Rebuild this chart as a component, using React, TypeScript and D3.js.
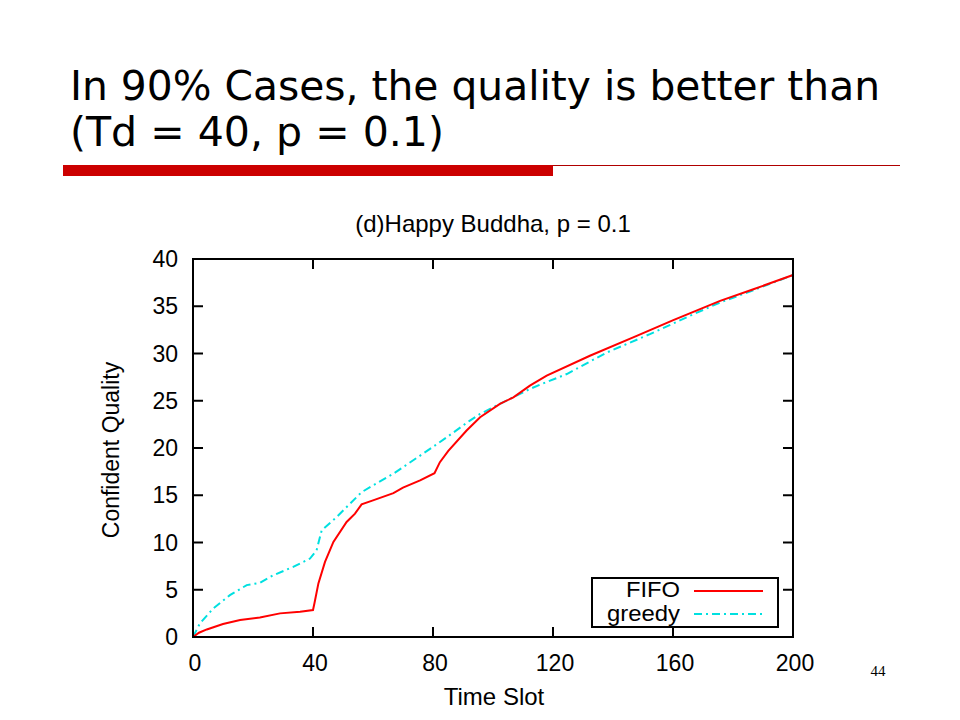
import { useEffect, useRef } from "react";
import * as d3 from "d3";

const W = 960;
const H = 720;

const xTicks = [0, 40, 80, 120, 160, 200];
const yTicks = [0, 5, 10, 15, 20, 25, 30, 35, 40];

// values
const fifoT = [0, 2, 4.6, 10, 15.7, 22.3, 29, 35.7, 40, 40.5, 41.8, 44, 46.8, 51.2, 54, 56.2, 60, 66.8, 70, 75.7, 80.5, 82.3, 85.1, 91.2, 95.7, 102.3, 106.8, 112.3, 117.9, 132.3, 147.9, 160.1, 175.7, 186.8, 200];
const fifoQ = [0, 0.45, 0.8, 1.37, 1.79, 2.07, 2.5, 2.67, 2.85, 3.6, 5.67, 7.95, 10.06, 12.17, 13.05, 14.04, 14.46, 15.23, 15.8, 16.57, 17.34, 18.5, 19.7, 21.85, 23.25, 24.67, 25.36, 26.6, 27.65, 29.76, 31.87, 33.53, 35.57, 36.8, 38.3];

const greedyT = [0, 2.3, 6.8, 12.3, 17.9, 22.3, 26.8, 33.4, 39, 41.2, 42.9, 47.9, 56.2, 66.8, 79, 84.6, 92.3, 95.7, 102.3, 112.3, 115.7, 124.6, 137.9, 152.3, 165.7, 175.7, 186.8, 200];
const greedyQ = [0, 1.44, 3.03, 4.43, 5.49, 5.73, 6.54, 7.42, 8.3, 9.18, 11.29, 12.7, 15.33, 17.28, 19.9, 21.14, 22.9, 23.6, 24.67, 26.25, 26.7, 27.83, 30.1, 32.05, 34, 35.4, 36.7, 38.3];

const left = 193;
const right = 793;
const top = 259;
const bottom = 637;

export default function App() {
  const ref = useRef<SVGSVGElement | null>(null);

  useEffect(() => {
    document.body.style.margin = "0";
    const svg = d3.select(ref.current);
    svg.selectAll("*").remove();

    svg.append("rect").attr("width", W).attr("height", H).attr("fill", "#fff");

    // slide heading
    const heading = svg.append("g").attr("font-family", "DejaVu Sans").attr("font-size", 40).attr("fill", "#000");
    heading.append("text").attr("x", 70).attr("y", 100).attr("textLength", 810).attr("lengthAdjust", "spacingAndGlyphs").text("In 90% Cases, the quality is better than");
    heading.append("text").attr("x", 70).attr("y", 146).attr("textLength", 374).attr("lengthAdjust", "spacingAndGlyphs").text("(Td = 40, p = 0.1)");

    svg.append("rect").attr("x", 63).attr("y", 165).attr("width", 490).attr("height", 11).attr("fill", "#cc0000");
    svg.append("line").attr("x1", 553).attr("x2", 900).attr("y1", 165.5).attr("y2", 165.5).attr("stroke", "#b00000").attr("stroke-width", 1);

    svg.append("text").attr("x", 878).attr("y", 676).attr("text-anchor", "middle").attr("font-family", "Liberation Serif").attr("font-size", 15).text("44");

    const x = d3.scaleLinear().domain([0, 200]).range([left, right]);
    const y = d3.scaleLinear().domain([0, 40]).range([bottom, top]);

    const g = svg.append("g").attr("font-family", "Liberation Sans").attr("fill", "#000");

    g.append("text").attr("x", 493).attr("y", 232).attr("text-anchor", "middle").attr("font-size", 24).text("(d)Happy Buddha, p = 0.1");

    // ticks, mirrored on all four sides and pointing inward
    const tickLen = 10;
    xTicks.forEach((t) => {
      g.append("line").attr("x1", x(t)).attr("x2", x(t)).attr("y1", bottom).attr("y2", bottom - tickLen).attr("stroke", "#000").attr("stroke-width", 2);
      g.append("line").attr("x1", x(t)).attr("x2", x(t)).attr("y1", top).attr("y2", top + tickLen).attr("stroke", "#000").attr("stroke-width", 2);
      g.append("text").attr("x", x(t) + 2).attr("y", 671).attr("text-anchor", "middle").attr("font-size", 23).text(t);
    });
    yTicks.forEach((t) => {
      g.append("line").attr("x1", left).attr("x2", left + tickLen).attr("y1", y(t)).attr("y2", y(t)).attr("stroke", "#000").attr("stroke-width", 2);
      g.append("line").attr("x1", right).attr("x2", right - tickLen).attr("y1", y(t)).attr("y2", y(t)).attr("stroke", "#000").attr("stroke-width", 2);
      g.append("text").attr("x", 178).attr("y", y(t) + 8).attr("text-anchor", "end").attr("font-size", 23).text(t);
    });

    g.append("text").attr("x", 494).attr("y", 705).attr("text-anchor", "middle").attr("font-size", 24).text("Time Slot");
    g.append("text").attr("transform", `translate(119,450) rotate(-90)`).attr("text-anchor", "middle").attr("font-size", 23).text("Confident Quality");

    const line = d3.line<[number, number]>().x((d) => x(d[0])).y((d) => y(d[1]));

    const greedy = greedyT.map((t, i) => [t, greedyQ[i]] as [number, number]);
    const fifo = fifoT.map((t, i) => [t, fifoQ[i]] as [number, number]);

    g.append("path").attr("d", line(greedy)).attr("fill", "none").attr("stroke", "#00e0e0").attr("stroke-width", 2).attr("stroke-dasharray", "8,4,2,4");
    g.append("path").attr("d", line(fifo)).attr("fill", "none").attr("stroke", "#ff0000").attr("stroke-width", 2);

    // legend
    g.append("rect").attr("x", 592).attr("y", 578).attr("width", 186).attr("height", 49).attr("fill", "#fff").attr("stroke", "#000").attr("stroke-width", 2);
    g.append("text").attr("x", 680).attr("y", 597).attr("text-anchor", "end").attr("font-size", 22).attr("textLength", 54).attr("lengthAdjust", "spacingAndGlyphs").text("FIFO");
    g.append("text").attr("x", 680).attr("y", 621).attr("text-anchor", "end").attr("font-size", 22).attr("textLength", 73).attr("lengthAdjust", "spacingAndGlyphs").text("greedy");
    g.append("line").attr("x1", 694).attr("x2", 763).attr("y1", 591).attr("y2", 591).attr("stroke", "#ff0000").attr("stroke-width", 2);
    g.append("line").attr("x1", 694).attr("x2", 763).attr("y1", 614).attr("y2", 614).attr("stroke", "#00e0e0").attr("stroke-width", 2).attr("stroke-dasharray", "8,4,2,4");

    // the tick at 160 crosses the legend box in the reference
    g.append("line").attr("x1", x(160)).attr("x2", x(160)).attr("y1", 627).attr("y2", bottom).attr("stroke", "#000").attr("stroke-width", 2);

    // frame drawn last so it sits above the lines
    g.append("rect").attr("x", left).attr("y", top).attr("width", right - left).attr("height", bottom - top).attr("fill", "none").attr("stroke", "#000").attr("stroke-width", 2);
  }, []);

  return <svg ref={ref} width={W} height={H} style={{ display: "block" }} />;
}
